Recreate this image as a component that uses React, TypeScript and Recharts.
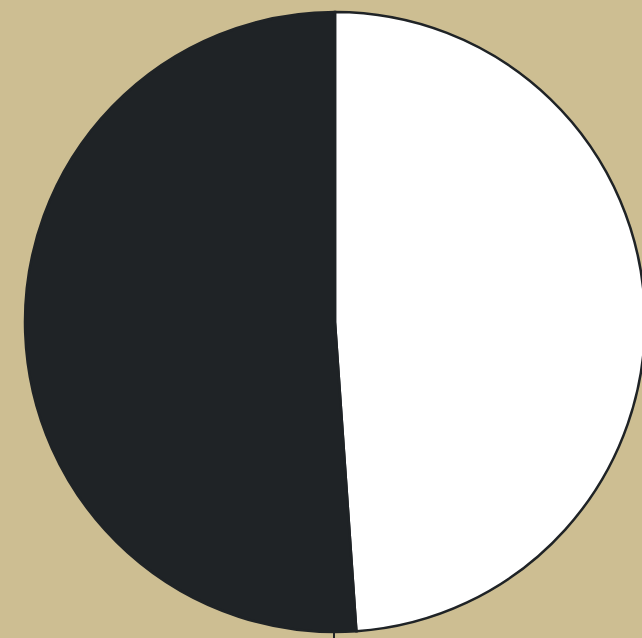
import React from "react";
import { PieChart, Pie, Cell } from "recharts";

const categories = ["Light", "Dark"];
const values = [48.9, 51.1];
const colors = ["#ffffff", "#1f2326"];

const data = categories.map((name, i) => ({ name, value: values[i] }));

export default function App() {
  return (
    <div
      style={{
        position: "fixed",
        left: 0,
        top: 0,
        width: 642,
        height: 638,
        background: "#cdbe92",
        overflow: "hidden",
      }}
    >
      <PieChart width={642} height={638} margin={{ top: 0, right: 0, bottom: 0, left: 0 }}>
        <Pie
          data={data}
          dataKey="value"
          nameKey="name"
          cx={335}
          cy={322}
          outerRadius={310}
          startAngle={90}
          endAngle={-270}
          stroke="#1f2326"
          strokeWidth={2.5}
          isAnimationActive={false}
          labelLine={false}
          label={false}
        >
          {data.map((d, i) => (
            <Cell key={d.name} fill={colors[i]} />
          ))}
        </Pie>
      </PieChart>
      <div
        style={{
          position: "absolute",
          left: 333,
          top: 631,
          width: 2,
          height: 8,
          background: "#1f2326",
        }}
      />
    </div>
  );
}
